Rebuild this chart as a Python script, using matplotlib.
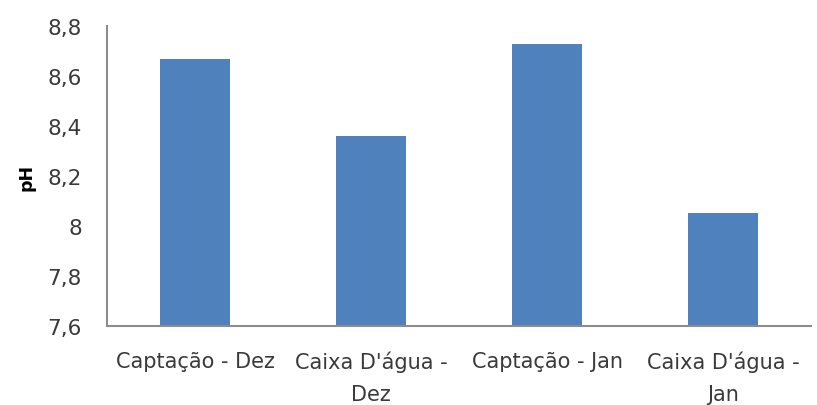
import matplotlib
matplotlib.use("Agg")
from matplotlib import pyplot as plt
from matplotlib.ticker import FuncFormatter

# data
categories = ["Captação - Dez", "Caixa D'água -\nDez", "Captação - Jan", "Caixa D'água -\nJan"]
ph_values = [8.67, 8.36, 8.73, 8.05]
y_ticks = [7.6, 7.8, 8.0, 8.2, 8.4, 8.6, 8.8]

text_color = "#3a3a3a"
axis_color = "#8c8c8c"

fig = plt.figure(figsize=(8.17, 4.06), dpi=100)
ax = fig.add_axes([0.131, 0.195, 0.862, 0.738])

ax.bar(range(len(categories)), ph_values, width=0.4, color="#4f81bd", bottom=0)
ax.set_xlim(-0.5, len(categories) - 0.5)
ax.set_ylim(7.6, 8.8)
ax.set_yticks(y_ticks)
ax.yaxis.set_major_formatter(FuncFormatter(lambda v, p: ("%g" % round(v, 1)).replace(".", ",")))
ax.set_xticks(range(len(categories)))
ax.set_xticklabels(categories, color=text_color, fontsize=15, linespacing=1.75)
ax.tick_params(axis="y", colors=text_color, labelsize=15.5, length=0, pad=18)
ax.tick_params(axis="x", length=0, pad=18)

for s in ["top", "right"]:
  ax.spines[s].set_visible(False)
for s in ["left", "bottom"]:
  ax.spines[s].set_color(axis_color)
  ax.spines[s].set_linewidth(1.5)

ax.set_ylabel("pH", fontsize=12.5, fontweight="bold", color="black")
ax.yaxis.set_label_coords(-0.102, 0.5)

fig.savefig("out.png", dpi=100)
